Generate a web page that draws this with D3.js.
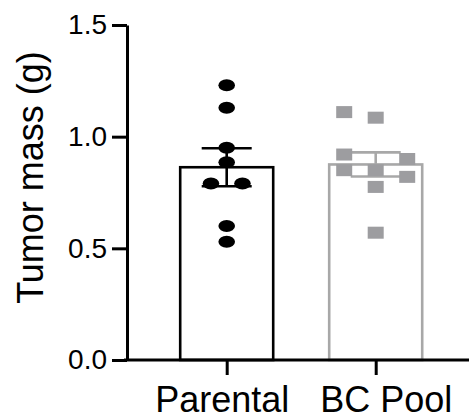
<!DOCTYPE html>
<html>
<head>
<meta charset="utf-8">
<script src="https://cdn.jsdelivr.net/npm/d3@7/dist/d3.min.js"></script>
<style>
  html, body { margin: 0; padding: 0; background: #fff; }
  svg { display: block; }
  text { font-family: Arial, "Liberation Sans", Helvetica, sans-serif; fill: #000; }
</style>
</head>
<body>
<svg id="chart" width="469" height="417"></svg>
<script>
// Groups and individual tumour masses (g)
const categories = ["Parental", "BC Pool"];
const parentalMass = [1.23, 1.13, 0.95, 0.885, 0.79, 0.79, 0.60, 0.53];
const bcPoolMass = [1.11, 1.085, 0.92, 0.90, 0.85, 0.85, 0.82, 0.775, 0.57];
const yTicks = [0, 0.5, 1.0, 1.5];

// Scatter column of each point (in marker-spacing units), as laid out in the dot plot
const parentalColumn = [0, 0, 0, 0, -0.5, 0.5, 0, 0];
const bcPoolColumn = [-1, 0, -1, 1, -1, 0, 1, 0, 0];

const groups = [
  { name: categories[0], values: parentalMass, cols: parentalColumn, color: "#000", fill: "#000", shape: "circle" },
  { name: categories[1], values: bcPoolMass, cols: bcPoolColumn, color: "#a8a8a8", fill: "#9d9da0", shape: "square" }
];
groups.forEach(g => {
  g.mean = d3.mean(g.values);
  g.sem = d3.deviation(g.values) / Math.sqrt(g.values.length);
});

const svg = d3.select("#chart");
const axisX = 127, baseY = 360, topY = 25;

const y = d3.scaleLinear().domain([0, 1.5]).range([baseY, topY]);
const x = d3.scalePoint().domain(categories).range([226.7, 375.7]);

const barW = 93, capW = 50, colStep = 31.5;

// Bars
svg.append("g").selectAll("rect").data(groups).join("rect")
  .attr("x", d => x(d.name) - barW / 2)
  .attr("y", d => y(d.mean))
  .attr("width", barW)
  .attr("height", d => y(0) - y(d.mean))
  .attr("fill", "none")
  .attr("stroke", d => d.color)
  .attr("stroke-width", 2.6);

// Error bars (mean ± SEM)
const eb = svg.append("g").selectAll("g").data(groups).join("g")
  .attr("stroke", d => d.color).attr("stroke-width", 2.6);
eb.append("line")
  .attr("x1", d => x(d.name)).attr("x2", d => x(d.name))
  .attr("y1", d => y(d.mean - d.sem)).attr("y2", d => y(d.mean + d.sem));
eb.append("line")
  .attr("x1", d => x(d.name) - capW / 2).attr("x2", d => x(d.name) + capW / 2)
  .attr("y1", d => y(d.mean + d.sem)).attr("y2", d => y(d.mean + d.sem));
eb.append("line")
  .attr("x1", d => x(d.name) - capW / 2).attr("x2", d => x(d.name) + capW / 2)
  .attr("y1", d => y(d.mean - d.sem)).attr("y2", d => y(d.mean - d.sem));

// Individual points
groups.forEach(g => {
  const pts = g.values.map((v, i) => ({ v, c: g.cols[i] }));
  const layer = svg.append("g").attr("fill", g.fill);
  if (g.shape === "circle") {
    layer.selectAll("ellipse").data(pts).join("ellipse")
      .attr("cx", d => x(g.name) + d.c * colStep)
      .attr("cy", d => y(d.v))
      .attr("rx", 8.3).attr("ry", 6);
  } else {
    layer.selectAll("rect").data(pts).join("rect")
      .attr("x", d => x(g.name) + d.c * colStep - 8)
      .attr("y", d => y(d.v) - 6)
      .attr("width", 16).attr("height", 12);
  }
});

// Y axis
const yAxis = svg.append("g")
  .attr("transform", `translate(${axisX},0)`)
  .call(d3.axisLeft(y).tickValues(yTicks).tickFormat(d3.format(".1f")).tickSize(15).tickPadding(5).tickSizeOuter(0));
yAxis.select(".domain").attr("stroke", "#000").attr("stroke-width", 3);
yAxis.selectAll(".tick line").attr("stroke", "#000").attr("stroke-width", 3);
yAxis.selectAll(".tick text").attr("font-size", 28).attr("font-family", null).attr("fill", "#000");

// X axis
svg.append("line")
  .attr("x1", axisX - 3).attr("x2", 469)
  .attr("y1", baseY).attr("y2", baseY)
  .attr("stroke", "#000").attr("stroke-width", 3);
const xAxis = svg.append("g")
  .attr("transform", `translate(0,${baseY})`)
  .call(d3.axisBottom(x).tickSize(15).tickPadding(11));
xAxis.select(".domain").remove();
xAxis.selectAll(".tick line").attr("stroke", "#000").attr("stroke-width", 3);
xAxis.selectAll(".tick text").attr("font-size", 36).attr("font-family", null).attr("fill", "#000")
  .attr("dx", (d, i) => i === 0 ? -5 : 10);

// Y axis title
svg.append("text")
  .attr("transform", "rotate(-90)")
  .attr("x", -177.5).attr("y", 43)
  .attr("text-anchor", "middle")
  .attr("font-size", 36)
  .text("Tumor mass (g)");
</script>
</body>
</html>
